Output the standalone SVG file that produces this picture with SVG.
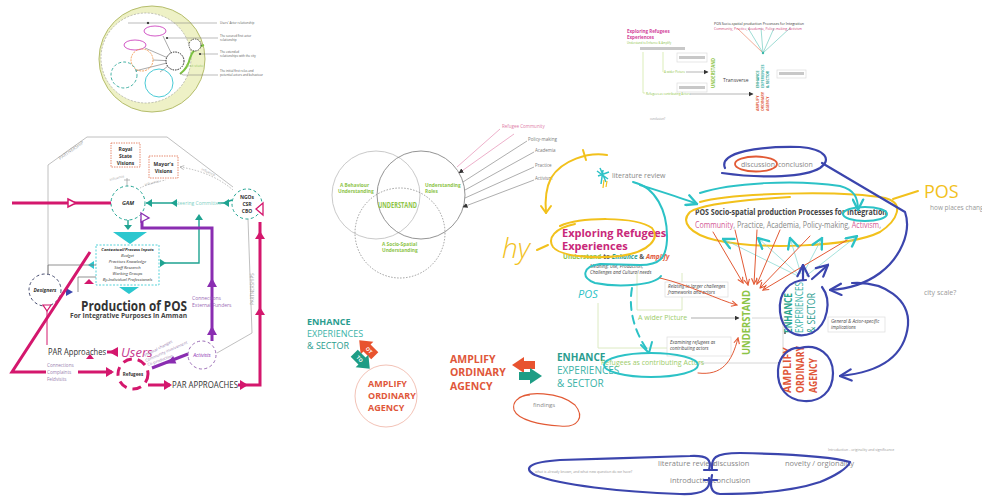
<svg xmlns="http://www.w3.org/2000/svg" width="982" height="500" viewBox="0 0 982 500">
<style>
text{font-family:"Open Sans","Liberation Sans",Arial,sans-serif}
.pk{stroke:#d4176d;fill:none;stroke-width:3}
.pkf{fill:#d4176d}
.pu{stroke:#8a2db1;fill:none;stroke-width:3}
.tl{stroke:#1fa391;fill:none;stroke-width:1.4}
.tlf{fill:#1fa391}
.nv{stroke:#3b45ad;fill:none;stroke-width:2.2;stroke-linecap:round;stroke-linejoin:round}
.yl{stroke:#f2c11c;fill:none;stroke-width:2;stroke-linecap:round;stroke-linejoin:round}
.cy{stroke:#2cc2c6;fill:none;stroke-width:2;stroke-linecap:round;stroke-linejoin:round}
.rd{stroke:#e25a35;fill:none;stroke-width:1;stroke-linecap:round}
.gy{stroke:#b0b0b0;fill:none;stroke-width:0.8}
.lg{stroke:#d8e8bb;fill:none;stroke-width:0.9}
.it{font-size:4.6px;fill:#444;font-style:italic}
.gt{fill:#8a8a8a}
.bx{fill:#fff;stroke:#dcdcdc;stroke-width:0.7}
.vg{fill:#8dc447;font-weight:bold}
</style>
<defs>
<marker id="aRed" viewBox="0 0 10 10" refX="9" refY="5" markerWidth="7" markerHeight="7" orient="auto" markerUnits="userSpaceOnUse"><path d="M1 1 L9 5 L1 9" fill="none" stroke="#e25a35" stroke-width="1.6"/></marker>
<marker id="aNavy" viewBox="0 0 10 10" refX="9" refY="5" markerWidth="14" markerHeight="14" orient="auto" markerUnits="userSpaceOnUse"><path d="M1 1 L9 5 L1 9" fill="none" stroke="#3b45ad" stroke-width="1.6" stroke-linecap="round"/></marker>
<marker id="aCyan" viewBox="0 0 10 10" refX="9" refY="5" markerWidth="13" markerHeight="13" orient="auto" markerUnits="userSpaceOnUse"><path d="M1 1 L9 5 L1 9" fill="none" stroke="#2cc2c6" stroke-width="1.8" stroke-linecap="round"/></marker>
<marker id="aBlk" viewBox="0 0 10 10" refX="9" refY="5" markerWidth="5" markerHeight="5" orient="auto" markerUnits="userSpaceOnUse"><path d="M0 0 L10 5 L0 10z" fill="#333"/></marker>
<marker id="aDot" viewBox="0 0 10 10" refX="9" refY="5" markerWidth="5" markerHeight="5" orient="auto" markerUnits="userSpaceOnUse"><path d="M1 1 L9 5 L1 9" fill="none" stroke="#aaa" stroke-width="1.5"/></marker>
</defs>

<!-- ========== Top-left thumbnail ========== -->
<g id="thumb-left">
<circle cx="152" cy="59" r="53" fill="#eef1c6" stroke="#b5bd6c" stroke-width="1"/>
<circle cx="146" cy="58" r="45" fill="#fff" stroke="#999" stroke-width="0.6" stroke-dasharray="2 1.5"/>
<path d="M180 74 q8 -6 10 -16 q3 -10 14 -13" stroke="#7dc242" stroke-width="2" fill="none"/>
<text x="186" y="67" font-size="4" fill="#9ccc6a">first state</text>
<path d="M175 61 L145 48 M175 61 L153 60 M175 61 L135 71 M175 61 L160 72 M175 61 L163 36" stroke="#555" stroke-width="0.5"/>
<ellipse cx="155" cy="31" rx="11" ry="5" fill="#fff" stroke="#c72fb8" stroke-width="0.8"/>
<ellipse cx="135" cy="45" rx="11" ry="5" fill="#fff" stroke="#c72fb8" stroke-width="0.8"/>
<circle cx="142" cy="60" r="11" fill="none" stroke="#ef8b3a" stroke-width="0.8" stroke-dasharray="2 1"/>
<circle cx="124" cy="75" r="13" fill="none" stroke="#2fa89a" stroke-width="0.9" stroke-dasharray="3 2"/>
<circle cx="159" cy="83" r="14" fill="none" stroke="#35c4d0" stroke-width="0.9"/>
<circle cx="175" cy="61" r="9" fill="#fff" stroke="#222" stroke-width="1" stroke-dasharray="1.5 1"/>
<circle cx="195" cy="45" r="6" fill="#fff" stroke="#222" stroke-width="0.8" stroke-dasharray="1.5 1"/>
<g fill="#fff" stroke="#222" stroke-width="0.6"><circle cx="148" cy="23" r="0.8"/></g>
<path d="M128 23 H217 M167 38 H218 M200 54 H218 M180 73 L183 75 H218" stroke="#777" stroke-width="0.5" fill="none"/>
<g fill="#333"><circle cx="148" cy="23" r="1.1"/><circle cx="167" cy="38" r="1.1"/><circle cx="200" cy="54" r="1.1"/></g>
<g font-size="3" fill="#555">
<text x="220" y="24">Users' Actor relationship</text>
<text x="220" y="37">The secured first actor</text><text x="220" y="41">relationship</text>
<text x="220" y="53">The extended</text><text x="220" y="57">relationships with the city</text>
<text x="220" y="72">The initial first roles and</text><text x="220" y="76">potential actors and behaviour</text>
</g>
</g>

<!-- ========== Top-right thumbnail ========== -->
<g id="thumb-right">
<text x="627" y="33" font-size="4.5" fill="#d23f9a" font-weight="bold">Exploring Refugees</text>
<text x="627" y="39" font-size="4.5" fill="#d23f9a" font-weight="bold">Experiences</text>
<text x="627" y="44" font-size="2.8" fill="#8dc447">Understand to Enhance &amp; Amplify</text>
<rect x="640" y="47" width="45" height="3" fill="#c8c8c8"/>
<rect x="677" y="53" width="30" height="9" class="bx"/><rect x="679" y="56" width="26" height="3" fill="#c8c8c8"/>
<rect x="677" y="83" width="30" height="9" class="bx"/><rect x="679" y="86" width="26" height="3" fill="#c8c8c8"/>
<rect x="777" y="70" width="29" height="8" class="bx"/><rect x="779" y="72" width="25" height="3" fill="#c8c8c8"/>
<path d="M643 52 V93 H645 M663 52 V72" stroke="#c3e08a" stroke-width="0.6" fill="none"/>
<text x="664" y="73" font-size="3" fill="#8dc447">A wider Picture</text>
<path d="M686 72 H708" stroke="#444" stroke-width="0.4" marker-end="url(#aBlk)"/>
<text x="646" y="95" font-size="3" fill="#8dc447">Refugees as contributing Actors</text>
<path d="M690 94 H753" stroke="#444" stroke-width="0.4" marker-end="url(#aBlk)"/>
<text x="715" y="88" font-size="5" class="vg" transform="rotate(-90 715 88)" textLength="30" lengthAdjust="spacingAndGlyphs">UNDERSTAND</text>
<text x="723" y="82" font-size="5" fill="#444">Transverse</text>
<g font-size="3.6" font-weight="bold">
<text x="759" y="88" fill="#2aa58c" transform="rotate(-90 759 88)">ENHANCE</text>
<text x="764" y="88" fill="#3bb3a8" transform="rotate(-90 764 88)">EXPERIENCES</text>
<text x="769" y="88" fill="#2a9d8f" transform="rotate(-90 769 88)">&amp; SECTOR</text>
<text x="759" y="111" fill="#e0573a" transform="rotate(-90 759 111)">AMPLIFY</text>
<text x="764" y="111" fill="#e0573a" transform="rotate(-90 764 111)">ORDINARY</text>
<text x="769" y="111" fill="#e0573a" transform="rotate(-90 769 111)">AGENCY</text>
</g>
<path d="M763 53 L737 28" stroke="#e25a35" stroke-width="0.5"/>
<path d="M763 53 L748 28 M763 53 L761 28 M763 53 L774 28 M763 53 L790 28" stroke="#3cb8a8" stroke-width="0.5"/>
<circle cx="763" cy="53" r="1.2" fill="#3cb8a8"/>
<text x="714" y="25" font-size="3.4" fill="#333" textLength="90" lengthAdjust="spacingAndGlyphs">POS Socio-spatial production Processes for Integration</text>
<text x="714" y="30" font-size="3" fill="#d2457a" textLength="88" lengthAdjust="spacingAndGlyphs">Community, Practice, Academia, Policy-making, Activism</text>
<text x="650" y="120" font-size="2.8" fill="#999">conclusion?</text>
</g>

<!-- ========== Left: Production of POS diagram ========== -->
<g id="partnership">
<path d="M48 287 V165 L87 137 H167 L233 187" class="gy"/>
<path d="M248 219 L252 333 L217 353" class="gy"/>
<text x="60" y="160" font-size="4.5" fill="#999" transform="rotate(-35 60 160)">PARTNERSHIP</text>
<text x="254" y="305" font-size="4.5" fill="#999" transform="rotate(-90 254 305)">PARTNERSHIPS</text>
</g>

<g id="royal-visions">
<rect x="111" y="143" width="29" height="24" fill="#fff" stroke="#e0704f" stroke-width="0.8" stroke-dasharray="1.5 1"/>
<g font-size="5" fill="#333" text-anchor="middle" font-weight="bold"><text x="125.5" y="151">Royal</text><text x="125.5" y="158">State</text><text x="125.5" y="165">Visions</text></g>
</g>
<g id="mayor-visions">
<rect x="149" y="156" width="29" height="22" fill="#fff" stroke="#e0704f" stroke-width="0.8" stroke-dasharray="1.5 1"/>
<g font-size="5" fill="#333" text-anchor="middle" font-weight="bold"><text x="163.5" y="166">Mayor's</text><text x="163.5" y="173">Visions</text></g>
</g>

<g id="influence">
<path d="M233 190 Q212 172 180 167" stroke="#aaa" stroke-width="0.8" stroke-dasharray="1.5 1.5" fill="none" marker-end="url(#aDot)"/>
<path d="M140 188 Q150 183 166 180" stroke="#aaa" stroke-width="0.8" stroke-dasharray="1.5 1.5" fill="none"/>
<path d="M127 178 V186 M124 180 H130" stroke="#999" stroke-width="0.7"/>
<text x="110" y="181" font-size="3.5" fill="#aaa" transform="rotate(-15 110 181)">influence</text>
<text x="145" y="186" font-size="3.5" fill="#aaa" transform="rotate(-15 145 186)">influence</text>
<text x="201" y="170" font-size="3.5" fill="#aaa" transform="rotate(25 201 170)">influence</text>
</g>

<g id="gam">
<circle cx="128" cy="203" r="17" fill="#fff" stroke="#1fa391" stroke-width="1" stroke-dasharray="3 2.5"/>
<text x="128" y="205" font-size="5.5" font-weight="bold" font-style="italic" fill="#333" text-anchor="middle">GAM</text>
</g>
<g id="ngos">
<circle cx="247" cy="204" r="15" fill="#fff" stroke="#1fa391" stroke-width="1" stroke-dasharray="3 2.5"/>
<g font-size="5" font-weight="bold" fill="#333" text-anchor="middle"><text x="247" y="199">NGOs</text><text x="247" y="206">CSR</text><text x="247" y="213">CBO</text></g>
</g>

<g id="inputs-box">
<rect x="96" y="245" width="63" height="40" fill="#fff" stroke="#2cc7cf" stroke-width="0.8" stroke-dasharray="2 1.5"/>
<g font-size="4.2" fill="#333" text-anchor="middle" font-style="italic">
<text x="127.5" y="251" font-weight="bold">Contextual/Process Inputs</text>
<text x="127.5" y="257">Budget</text>
<text x="127.5" y="263">Practices Knowledge</text>
<text x="127.5" y="269">Staff Research</text>
<text x="127.5" y="275">Working Groups</text>
<text x="127.5" y="281">By-Individual Professionals</text>
</g>
</g>

<g id="designers">
<circle cx="45" cy="290" r="16" fill="#fff" stroke="#444a6e" stroke-width="1" stroke-dasharray="3 2.5"/>
<text x="45" y="292" font-size="5" font-weight="bold" font-style="italic" fill="#333" text-anchor="middle">Designers</text>
</g>
<g id="activists">
<circle cx="202" cy="355" r="14" fill="#fff" stroke="#9a6bb5" stroke-width="1" stroke-dasharray="3 2.5"/>
<text x="202" y="357" font-size="5" font-style="italic" fill="#8a2db1" text-anchor="middle">Activists</text>
</g>
<g id="refugees">
<circle cx="133" cy="374" r="15" fill="#fff" stroke="#d4176d" stroke-width="3" stroke-dasharray="9 6"/>
<text x="133" y="376" font-size="4.5" font-weight="bold" fill="#333" text-anchor="middle">Refugees</text>
</g>

<g id="left-connectors">
<!-- teal -->
<path d="M232 200 L224 203 H218 M174 203 H146" class="tl"/>
<text x="175" y="205" font-size="5" fill="#7fcfc4">Steering Committee</text>
<path d="M199 219 V263 H165" class="tl" stroke-width="1"/>
<polygon points="229,199 223,203 229,207" class="tlf"/>
<polygon points="177,199 171,203 177,207" class="tlf"/>
<polygon points="152,199 146,203 152,207" class="tlf"/>
<polygon points="195,220 199,214 203,220" class="tlf"/>
<polygon points="160,259 166,263 160,267" class="tlf"/>
<polygon points="94,261 88,265 94,269" fill="#2cc7cf"/>
<path d="M128 220 V226" class="tl"/>
<polygon points="124,225 132,225 128,230" class="tlf"/>
<polygon points="113,232 147,232 130,244" fill="#2cc7cf"/>
<polygon points="119,287 139,287 129,294" fill="#2cc7cf"/>
<!-- gray -->
<path d="M48 274 V265 H96 M78 292 V277 H96" stroke="#777" stroke-width="0.8" fill="none"/>
<polygon points="66,288 73,292 66,296" fill="#3b45ad"/>
<!-- purple -->
<path d="M142 219 V228 H212 V341" class="pu"/>
<polygon points="141,213 149,218 141,222" fill="#fff" stroke="#8a2db1" stroke-width="1.3"/>
<polygon points="207,287 212,278 217,287" fill="#8a2db1"/>
<polygon points="207,335 212,326 217,335" fill="#8a2db1"/>
<path d="M188 354 L152 368" class="pu" stroke-width="2.5"/>
<polygon points="166.4,363.5 176.4,363.5 173.2,356.1" fill="#8a2db1"/>
<text x="192" y="300" font-size="5" fill="#9a6bb5">Connections</text>
<text x="192" y="307" font-size="5" fill="#9a6bb5">External Funders</text>
<!-- pink -->
<path d="M12 203 H111" class="pk"/>
<polygon points="68,199 76,203 68,207" fill="#fff" stroke="#d4176d" stroke-width="1.5"/>
<path d="M90 252 L12 372 H46 M78 372 H112" class="pk"/>
<polygon points="106,367 114,372 106,377" class="pkf"/>
<path d="M47 306 V345" stroke="#d4176d" stroke-width="1" fill="none"/>
<polygon points="43,305 51,305 47,311" fill="#fff" stroke="#d4176d" stroke-width="1.2"/>
<polygon points="84,284 89,279 94,284" class="pkf"/>
<path d="M107 352 H118" class="pk"/>
<polygon points="118,347 109,352 118,357" class="pkf"/>
<polygon points="86,359 90,354 94,359" class="pkf"/>
<path d="M148 385 H170 M238 385 H260 V222" class="pk"/>
<polygon points="164,380 172,385 164,390" class="pkf"/>
<polygon points="240,380 248,385 240,390" class="pkf"/>
<polygon points="255,239 260,231 265,239" class="pkf"/>
<polygon points="255,315 260,307 265,315" class="pkf"/>
<polygon points="263,203 256,209 263,215" fill="#fff" stroke="#d4176d" stroke-width="1.3"/>
</g>

<g id="left-texts">
<text x="81" y="311" font-size="15" font-weight="bold" fill="#333" textLength="106" lengthAdjust="spacingAndGlyphs">Production of POS</text>
<text x="70" y="318" font-size="6.5" font-weight="bold" fill="#444" textLength="117" lengthAdjust="spacingAndGlyphs">For Integrative Purposes in Amman</text>
<text x="48" y="355" font-size="9" fill="#333" textLength="58" lengthAdjust="spacingAndGlyphs">PAR Approaches</text>
<text x="121" y="357" font-size="13" font-style="italic" fill="#c63a90">Users</text>
<g font-size="4.6" fill="#9a7fb0"><text x="47" y="367">Connections</text><text x="47" y="374">Complaints</text><text x="47" y="381">Feldvisits</text></g>
<text x="145" y="357" font-size="4" fill="#9a7fb0" transform="rotate(-28 145 357)">Physical changes</text>
<text x="146" y="362" font-size="4" fill="#9a7fb0" transform="rotate(-24 146 362)">Community involvement</text>
<text x="148" y="366" font-size="4" fill="#9a7fb0" transform="rotate(-20 148 366)">Co-production</text>
<text x="172" y="388" font-size="8.5" fill="#333" textLength="66" lengthAdjust="spacingAndGlyphs">PAR APPROACHES</text>
</g>

<!-- ========== Venn ========== -->
<g id="venn">
<circle cx="376" cy="195" r="44" fill="none" stroke="#bbb" stroke-width="0.8"/>
<circle cx="421" cy="195" r="44" fill="none" stroke="#888" stroke-width="0.9"/>
<circle cx="400" cy="233" r="45" fill="none" stroke="#777" stroke-width="0.7" stroke-dasharray="1.5 1.5"/>
<g font-size="4.8" class="vg">
<text x="340" y="187">A Behaviour</text><text x="338" y="193">Understanding</text>
<text x="425" y="187">Understanding</text><text x="425" y="193">Roles</text>
<text x="382" y="246">A Socio-Spatial</text><text x="382" y="252">Understanding</text>
</g>
<text x="397.5" y="208" font-size="8" class="vg" text-anchor="middle" textLength="39" lengthAdjust="spacingAndGlyphs">UNDERSTAND</text>
</g>
<g id="venn-links">
<path d="M500 129 L457 167 M514 134 L459 173" stroke="#e07aa6" stroke-width="0.6" fill="none" marker-end="url(#aBlk)"/>
<path d="M527 141 L463 182 M534 152 L465 190 M534 167 L465 198 M534 180 L463 207" stroke="#777" stroke-width="0.6" fill="none" marker-end="url(#aBlk)"/>
<text x="502" y="128" font-size="4.5" fill="#e07aa6">Refugee Community</text>
<g font-size="4.5" fill="#777"><text x="528" y="141">Policy-making</text><text x="535" y="152">Academia</text><text x="535" y="167">Practice</text><text x="535" y="180">Activism</text></g>
</g>

<!-- ========== Enhance / Amplify (left) ========== -->
<g id="enhance-left">
<text x="307" y="325" font-size="9" font-weight="bold" fill="#2a9d8f">ENHANCE</text>
<text x="307" y="337" font-size="9" fill="#3bb3a8">EXPERIENCES</text>
<text x="307" y="349" font-size="9" fill="#2a9d8f">&amp; SECTOR</text>
</g>
<g id="to-arrows-left">
<g transform="translate(367,348) rotate(45)"><path d="M11 -5 H0 V-9 L-11 0 L0 9 V5 H11 Z" fill="#e8532f"/><text x="3" y="2" font-size="5" fill="#fff" font-weight="bold" text-anchor="middle">OT</text></g>
<g transform="translate(362,361) rotate(45)"><path d="M-11 -5 H0 V-9 L11 0 L0 9 V5 H-11 Z" fill="#1e9d85"/><text x="-3" y="2" font-size="5" fill="#fff" font-weight="bold" text-anchor="middle">TO</text></g>
</g>
<g id="amplify-left">
<circle cx="386" cy="396" r="31" fill="none" stroke="#efb3a3" stroke-width="0.8"/>
<g font-size="9" font-weight="bold" fill="#e0573a"><text x="368" y="387">AMPLIFY</text><text x="368" y="399">ORDINARY</text><text x="368" y="411">AGENCY</text></g>
</g>
<g id="amplify-mid">
<g font-size="10.5" font-weight="bold" fill="#e0573a"><text x="450" y="363">AMPLIFY</text><text x="450" y="376">ORDINARY</text><text x="450" y="390">AGENCY</text></g>
</g>
<g id="to-arrows-mid">
<path d="M535 361 H524 V357 L512 365 L524 373 V369 H535 Z" fill="#e8532f"/>
<path d="M519 372 H530 V368 L542 376 L530 384 V380 H519 Z" fill="#1e9d85"/>
</g>
<g id="enhance-mid">
<text x="557" y="361" font-size="10" font-weight="bold" fill="#2a9d8f">ENHANCE</text>
<text x="557" y="374" font-size="10" fill="#3bb3a8">EXPERIENCES</text>
<text x="557" y="387" font-size="10" fill="#3bb3a8">&amp; SECTOR</text>
</g>

<!-- ========== Right map ========== -->
<g id="literature">
<text x="612" y="178" font-size="7" fill="#888">literature review</text>
<path d="M600 168 L606 182 M598 176 L609 172 M603 170 L601 184 M597 171 L608 179" stroke="#2cc2c6" stroke-width="1.5"/>
<path d="M604 180 L603 188 M607 181 L606 187" stroke="#f2c11c" stroke-width="1.2"/>
</g>

<g id="exploring">
<text x="562" y="237" font-size="11" font-weight="bold" fill="#c9287a">Exploring Refugees</text>
<text x="562" y="250" font-size="11" font-weight="bold" fill="#c9287a">Experiences</text>
<text x="563" y="259" font-size="6.5" font-weight="bold"><tspan fill="#8dc447">Understand</tspan><tspan fill="#555"> to </tspan><tspan fill="#2a9d8f" font-style="italic">Enhance</tspan><tspan fill="#555"> &amp; </tspan><tspan fill="#e0573a" font-style="italic">Amplify</tspan></text>
<text x="590" y="268" class="it">Meaning: Use, Production;</text>
<text x="590" y="274" class="it">Challenges and Cultural needs</text>
</g>

<g id="pos-processes">
<text x="695" y="215" font-size="9.5" font-weight="bold" fill="#444" textLength="192" lengthAdjust="spacingAndGlyphs">POS Socio-spatial production Processes for Integration</text>
<text x="695" y="228" font-size="8.5" fill="#888" textLength="186" lengthAdjust="spacingAndGlyphs"><tspan fill="#d45a95">Community</tspan>, Practice, Academia, Policy-making, <tspan fill="#d45a95">Activism</tspan>,</text>
</g>

<g id="discussion">
<text x="741" y="167" font-size="7" fill="#888">discussion</text>
<text x="778" y="167" font-size="7" fill="#888">conclusion</text>
</g>

<g id="boxes-right">
<path d="M637 273 V310 H682 V273" class="lg"/>
<path d="M598 303 V348 H667" class="lg"/>
<rect x="665" y="282" width="63" height="15" class="bx"/>
<text x="668" y="288" class="it">Relating to larger challenges</text>
<text x="668" y="294" class="it">frameworks and actors</text>
<rect x="667" y="337" width="64" height="19" class="bx"/>
<text x="670" y="344" class="it">Examining refugees as</text>
<text x="670" y="350" class="it">contributing actors</text>
<rect x="828" y="317" width="57" height="15" class="bx"/>
<text x="831" y="323" class="it">General &amp; Actor-specific</text>
<text x="831" y="329" class="it">implications</text>
<text x="638" y="320" font-size="7" fill="#9ccc6a">A wider Picture</text>
<path d="M691 318 H739" stroke="#777" stroke-width="0.6" marker-end="url(#aBlk)"/>
<path d="M752 318 H783 V363 M697 363 H779" stroke="#ccc" stroke-width="0.8" fill="none"/>
<circle cx="785" cy="333" r="1" fill="#555"/><circle cx="779" cy="363" r="1" fill="#555"/>
<text x="601" y="365" font-size="7" fill="#9ccc6a">Refugees as contributing Actors</text>
<text x="533" y="407" font-size="6" fill="#888">findings</text>
<text x="924" y="295" font-size="7" fill="#999">city scale?</text>
<text x="930" y="210" font-size="6.5" fill="#999">how places change</text>
</g>

<g id="understand-right">
<text x="750" y="355" font-size="11" font-weight="bold" fill="#8dc447" transform="rotate(-90 750 355)" textLength="65" lengthAdjust="spacingAndGlyphs">UNDERSTAND</text>
</g>
<g id="enhance-right">
<text x="792" y="333" font-size="10" font-weight="bold" fill="#2aa58c" transform="rotate(-90 792 333)" textLength="40" lengthAdjust="spacingAndGlyphs">ENHANCE</text>
<text x="803" y="333" font-size="10" fill="#3bb3a8" transform="rotate(-90 803 333)" textLength="51" lengthAdjust="spacingAndGlyphs">EXPERIENCES</text>
<text x="815" y="333" font-size="10" fill="#2a9d8f" transform="rotate(-90 815 333)" textLength="40" lengthAdjust="spacingAndGlyphs">&amp; SECTOR</text>
</g>
<g id="amplify-right">
<text x="791" y="393" font-size="10" font-weight="bold" fill="#e0573a" transform="rotate(-90 791 393)" textLength="46" lengthAdjust="spacingAndGlyphs">AMPLIFY</text>
<text x="804" y="393" font-size="10" font-weight="bold" fill="#e0573a" transform="rotate(-90 804 393)" textLength="47" lengthAdjust="spacingAndGlyphs">ORDINARY</text>
<text x="817" y="393" font-size="10" font-weight="bold" fill="#e0573a" transform="rotate(-90 817 393)" textLength="35" lengthAdjust="spacingAndGlyphs">AGENCY</text>
</g>

<g id="bottom-notes">
<g font-size="7.5" fill="#888">
<text x="658" y="466">literature review</text><text x="713" y="466">discussion</text>
<text x="670" y="483">introduction</text><text x="713" y="483">conclusion</text>
<text x="785" y="466">novelty / orgionality</text>
</g>
<text x="828" y="451" font-size="3.5" fill="#999">Introduction - originality and significance</text>
<text x="535" y="473" font-size="3.5" fill="#999">what is already known, and what new question do we have?</text>
</g>

<!-- ========== Hand-drawn strokes (connectors) ========== -->
<g id="pen-strokes">
<!-- yellow -->
<path d="M607 155 C588 152 562 160 551 178 C545 190 545 202 546 213" class="yl"/>
<path d="M541 206 L546 213 L551 206" class="yl"/>
<path d="M583 150 L586 160" class="yl" stroke-width="1.5"/>
<text x="502" y="258" font-size="28" font-style="italic" fill="#f2c11c" font-family="DejaVu Sans, sans-serif" font-weight="300">hy</text>
<path d="M537 250 L548 245" class="yl"/>
<path d="M560 226 C580 217 635 216 652 228 C660 238 650 252 620 256 C590 259 560 256 553 247 C547 238 555 228 575 224" class="yl"/>
<path d="M700 202 C730 193 840 190 885 198 C905 203 898 220 880 232 C850 247 760 250 715 240 C690 234 680 222 690 212 C700 205 740 200 790 197" class="yl"/>
<path d="M893 199 L918 191" class="yl"/>
<text x="924" y="198" font-size="18" fill="#f2c11c" font-family="DejaVu Sans, sans-serif">POS</text>
<!-- cyan -->
<path d="M640 185 C662 192 682 198 697 204" class="cy" marker-end="url(#aCyan)"/>
<path d="M633 182 C655 187 668 210 667 240 C666 258 660 265 640 265 L600 264 C583 266 580 278 595 283 C620 288 655 285 661 276" class="cy"/>
<path d="M700 193 C730 183 795 179 840 186 C855 190 858 198 858 210" class="cy" marker-end="url(#aCyan)"/>
<ellipse cx="865" cy="214" rx="22" ry="7" class="cy"/>
<path d="M632 288 C628 310 635 333 648 351" class="cy" stroke-dasharray="8 6"/>
<path d="M641 345 L649 353 L652 342" class="cy"/>
<text x="578" y="298" font-size="11" font-style="italic" fill="#2cc2c6" font-family="DejaVu Sans, sans-serif">POS</text>
<ellipse cx="651" cy="365" rx="47" ry="12" class="cy"/>
<!-- teal thin lines to POS -->
<g stroke="#7fd6cf" stroke-width="0.7" fill="none">
<path d="M798 276 L723 239" marker-end="url(#aCyan)"/>
<path d="M799 275 L758 238" marker-end="url(#aCyan)"/>
<path d="M801 274 L790 238" marker-end="url(#aCyan)"/>
<path d="M803 274 L822 238" marker-end="url(#aCyan)"/>
<path d="M806 276 L857 236" marker-end="url(#aCyan)"/>
</g>
<!-- red -->
<g class="rd">
<path d="M713 232 L743 283" marker-end="url(#aRed)"/>
<path d="M735 230 L748 285" marker-end="url(#aRed)"/>
<path d="M757 230 L754 284" marker-end="url(#aRed)"/>
<path d="M780 230 L757 284" marker-end="url(#aRed)"/>
<path d="M810 236 L760 288" marker-end="url(#aRed)"/>
<path d="M847 240 L763 290" marker-end="url(#aRed)"/>
<path d="M660 278 C690 285 718 300 737 305" marker-end="url(#aRed)"/>
<path d="M698 373 C722 376 732 362 738 338" marker-end="url(#aRed)"/>
</g>
<ellipse cx="756" cy="164" rx="21" ry="7.5" fill="none" stroke="#e25a35" stroke-width="1.8"/>
<path d="M517 400 C525 390 560 392 575 405 C585 417 578 428 560 426 C540 425 518 420 514 410 C512 402 518 396 530 395" fill="none" stroke="#e25a35" stroke-width="1.1"/>
<!-- navy -->
<path d="M725 168 C718 152 760 146 800 147 C826 149 832 160 820 168 C805 177 765 179 722 173" class="nv"/>
<path d="M822 163 L905 212 C912 232 900 258 880 273 C865 284 848 289 830 290" class="nv" marker-end="url(#aNavy)"/>
<path d="M852 283 C885 281 910 300 908 325 C905 355 882 372 840 376" class="nv" marker-end="url(#aNavy)"/>
<path d="M822 287 C832 300 828 325 812 333 C795 340 782 330 780 312 C778 292 790 280 806 280" class="nv"/>
<path d="M800 348 C818 343 833 355 833 373 C833 392 820 402 804 401 C787 400 777 388 778 370 C779 355 790 347 800 348" class="nv"/>
<path d="M803 280 V265" class="nv" marker-end="url(#aNavy)"/>
<path d="M812 279 L828 265" class="nv" marker-end="url(#aNavy)"/>
<path d="M709 470 C712 460 708 455 690 456 C660 457 600 459 560 460 C530 462 522 468 535 475 C560 485 620 492 680 494 C705 495 711 488 709 478" class="nv"/>
<path d="M712 470 C711 458 714 453 740 453 C790 454 830 456 850 462 C848 468 835 476 820 482 C790 492 750 494 720 494 C710 493 710 485 712 475" class="nv"/>
<path d="M704 470 H717 M704 480 H717" class="nv"/>
</g>
</svg>
